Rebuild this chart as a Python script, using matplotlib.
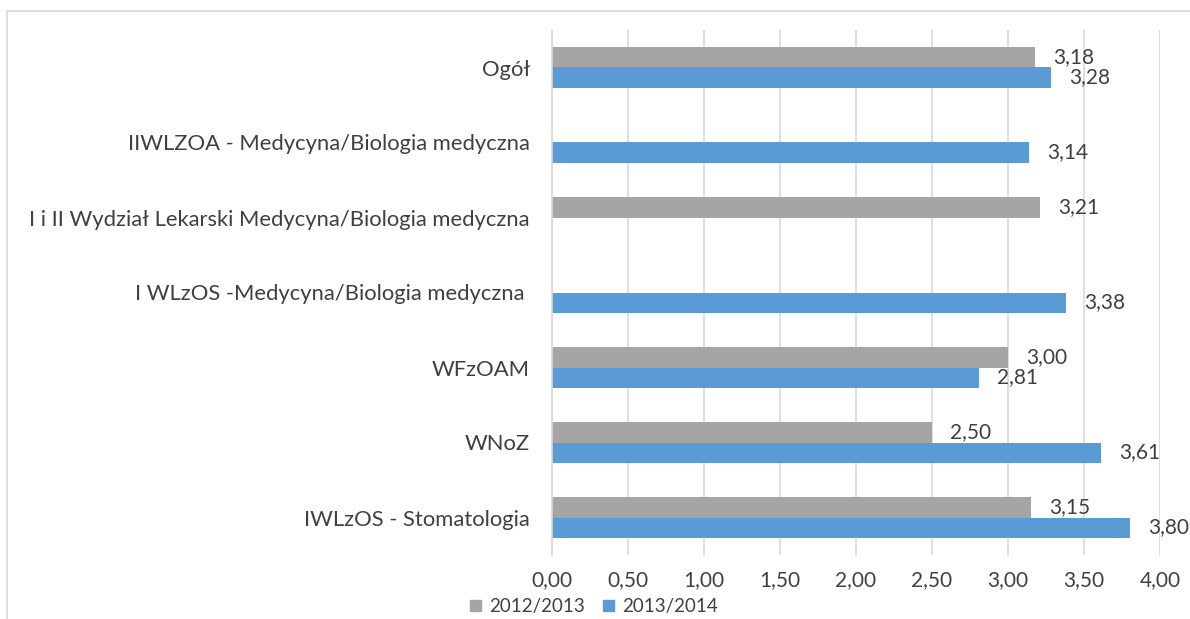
import numpy as np
import matplotlib.pyplot as plt
from matplotlib.patches import Rectangle, Patch

plt.rcParams['font.family'] = ['Lato', 'DejaVu Sans']

# data (bottom to top)
categories = ['IWLzOS - Stomatologia', 'WNoZ', 'WFzOAM',
              'I WLzOS -Medycyna/Biologia medyczna ',
              'I i II Wydział Lekarski Medycyna/Biologia medyczna',
              'IIWLZOA - Medycyna/Biologia medyczna', 'Ogół']
values_2012 = [3.15, 2.50, 3.00, np.nan, 3.21, np.nan, 3.18]
values_2013 = [3.80, 3.61, 2.81, 3.38, np.nan, 3.14, 3.28]
series_names = ['2012/2013', '2013/2014']
xticks = [0, 0.5, 1, 1.5, 2, 2.5, 3, 3.5, 4]

gray = '#A5A5A5'
blue = '#5B9BD5'
text_col = '#404040'

fig = plt.figure(figsize=(11.9, 6.19), dpi=100)
ax = fig.add_axes([552 / 1190, 1 - 555 / 619, 608 / 1190, 525 / 619])

# chart frame
fig.patches.append(Rectangle((7 / 1190, -0.05), 1.2, 1 - 11 / 619 + 0.05,
                             transform=fig.transFigure, fill=False,
                             edgecolor='#D9D9D9', lw=1.2))

y = np.arange(len(categories))
h = 0.267
ax.barh(y + h / 2, values_2012, height=h, color=gray, zorder=2)
ax.barh(y - h / 2, values_2013, height=h, color=blue, zorder=2)


def fmt(v):
    return '{:.2f}'.format(v).replace('.', ',')


for i in range(len(categories)):
    if not np.isnan(values_2012[i]):
        ax.text(values_2012[i] + 0.12, y[i] + h / 2, fmt(values_2012[i]),
                va='center', ha='left', fontsize=15, color=text_col)
    if not np.isnan(values_2013[i]):
        ax.text(values_2013[i] + 0.12, y[i] - h / 2, fmt(values_2013[i]),
                va='center', ha='left', fontsize=15, color=text_col)

ax.set_xlim(0, 4)
ax.set_ylim(-0.5, len(categories) - 0.5)
ax.set_xticks(xticks)
ax.set_xticklabels([fmt(t) for t in xticks], fontsize=15, color=text_col)
ax.set_yticks(y)
ax.set_yticklabels(categories, fontsize=15.8, color=text_col)
ax.tick_params(axis='both', length=0)
ax.tick_params(axis='x', pad=11)
ax.tick_params(axis='y', pad=16)
ax.grid(axis='x', color='#D9D9D9', lw=1.2, zorder=0)
for s in ['top', 'right', 'bottom']:
    ax.spines[s].set_visible(False)
ax.spines['left'].set_color('#D9D9D9')
ax.spines['left'].set_linewidth(1.2)

handles = [Patch(color=gray), Patch(color=blue)]
fig.legend(handles, series_names, loc='center', bbox_to_anchor=(0.499, 0.02),
           ncol=2, frameon=False, fontsize=13.5, handlelength=0.6,
           handleheight=0.6, handletextpad=0.4, columnspacing=1.0,
           labelcolor=text_col)

fig.savefig('out.png', dpi=100)
